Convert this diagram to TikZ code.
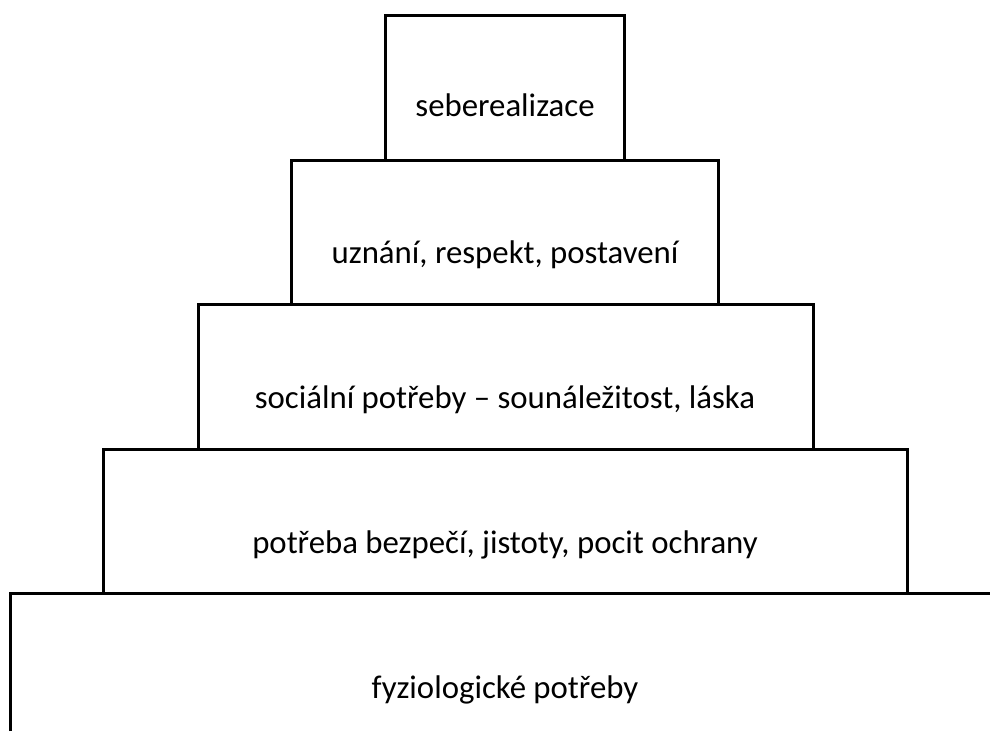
\documentclass[tikz,border=0pt]{standalone}
\usepackage{fontspec}
\setmainfont{Carlito}
\begin{document}
\begin{tikzpicture}[x=1pt,y=-1pt,
  edge/.style={draw=black,line width=3pt},
  lbl/.style={font=\fontsize{32.8}{38}\selectfont,inner sep=0pt}]
\useasboundingbox (0,0) rectangle (990,731);
\draw[edge] (385,160) -- (385,15) -- (624,15) -- (624,160);
\draw[edge] (291,304) -- (291,160) -- (718,160) -- (718,304);
\draw[edge] (198,449) -- (198,304) -- (813,304) -- (813,449);
\draw[edge] (103,593) -- (103,449) -- (907,449) -- (907,593);
\draw[edge] (10,731) -- (10,593) -- (990,593);
\node[lbl] (t1) at (505,105) {seberealizace};
\node[lbl] (t2) at (505,255) {uznání, respekt, postavení};
\node[lbl] (t3) at (505,400) {sociální potřeby – sounáležitost, láska};
\node[lbl] (t4) at (505,545) {potřeba bezpečí, jistoty, pocit ochrany};
\node[lbl] (t5) at (505,690) {fyziologické potřeby};
\end{tikzpicture}
\end{document}
